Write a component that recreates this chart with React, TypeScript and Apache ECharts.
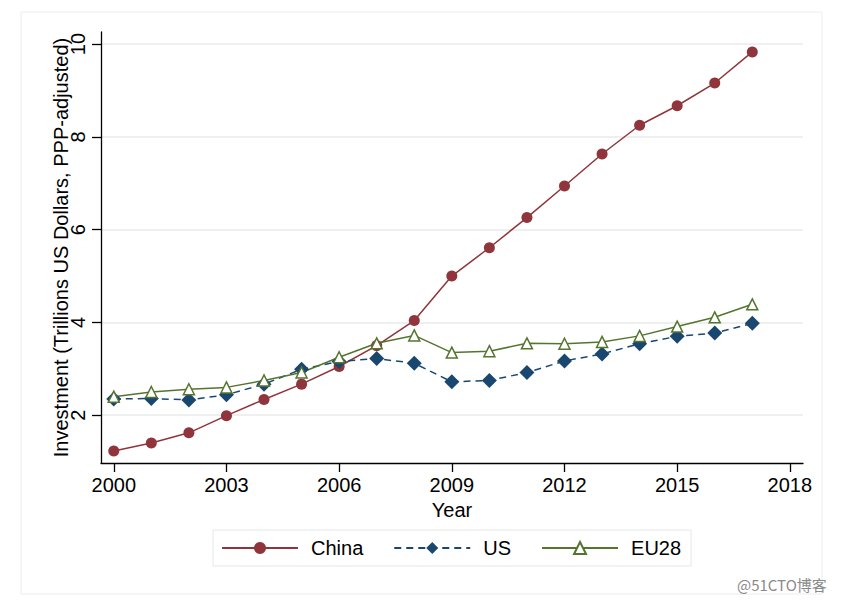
import React, { useEffect, useRef } from "react";
import * as echarts from "echarts";

const years = [2000, 2001, 2002, 2003, 2004, 2005, 2006, 2007, 2008, 2009, 2010, 2011, 2012, 2013, 2014, 2015, 2016, 2017];
const china = [1.23, 1.40, 1.62, 1.99, 2.34, 2.67, 3.05, 3.50, 4.04, 5.00, 5.61, 6.26, 6.94, 7.63, 8.25, 8.67, 9.16, 9.83];
const us = [2.35, 2.36, 2.33, 2.44, 2.67, 2.99, 3.16, 3.22, 3.12, 2.72, 2.75, 2.92, 3.17, 3.32, 3.54, 3.70, 3.77, 3.98];
const eu28 = [2.40, 2.50, 2.56, 2.60, 2.75, 2.92, 3.25, 3.55, 3.72, 3.35, 3.38, 3.55, 3.54, 3.58, 3.71, 3.91, 4.11, 4.39];
const xTicks = [2000, 2003, 2006, 2009, 2012, 2015, 2018];
const yTicks = [2, 4, 6, 8, 10];

const FONT = "'Liberation Sans', Arial, Helvetica, sans-serif";
const C_CHINA = "#90353b";
const C_US = "#1a476f";
const C_EU = "#55752f";

export default function App() {
  const ref = useRef<HTMLDivElement>(null);
  useEffect(() => {
    if (!ref.current) return;
    const chart = echarts.init(ref.current, null, { renderer: "svg" });
    const pair = (vals: number[]) => years.map((y, i) => [y, vals[i]]);
    chart.setOption({
      animation: false,
      backgroundColor: "#ffffff",
      textStyle: { fontFamily: FONT },
      graphic: [
        {
          type: "rect",
          shape: { x: 21, y: 12, width: 801, height: 582 },
          style: { fill: "none", stroke: "#ececec", lineWidth: 1 },
          silent: true,
          z: -1,
        },
        {
          type: "text",
          left: 737,
          top: 577,
          style: { text: "@51CTO博客", fill: "#8a8a8a", font: "15px 'Noto Sans CJK SC', " + FONT },
          z: 10,
        },
        {
          type: "text",
          x: 61,
          y: 247.5,
          rotation: Math.PI / 2,
          style: {
            text: "Investment (Trillions US Dollars, PPP-adjusted)",
            fill: "#000",
            font: "20px " + FONT,
            align: "center",
            verticalAlign: "middle",
          },
          z: 10,
        },
      ],
      grid: { left: 101, right: 42, top: 32, bottom: 140, containLabel: false },
      xAxis: {
        type: "value",
        min: 1999.66,
        max: 2018.35,
        name: "Year",
        nameLocation: "middle",
        nameGap: 31,
        nameTextStyle: { color: "#000", fontSize: 20, fontFamily: FONT },
        axisLine: { show: true, lineStyle: { color: "#000", width: 1.3 } },
        axisTick: { show: true, length: 9, customValues: xTicks, lineStyle: { color: "#000", width: 1.3 } },
        axisLabel: {
          customValues: xTicks,
          color: "#000",
          fontSize: 20,
          margin: 12,
          fontFamily: FONT,
          formatter: (v: number) => String(Math.round(v)),
        },
        splitLine: { show: false },
      },
      yAxis: {
        type: "value",
        min: 0.97,
        max: 10.26,
        axisLine: { show: true, lineStyle: { color: "#000", width: 1.3 } },
        axisTick: { show: true, length: 9, customValues: yTicks, lineStyle: { color: "#000", width: 1.3 } },
        axisLabel: {
          customValues: yTicks,
          color: "#000",
          fontSize: 20,
          rotate: 90,
          align: "center",
          verticalAlign: "bottom",
          margin: 13,
          fontFamily: FONT,
          formatter: (v: number) => String(Math.round(v)),
        },
        splitLine: { show: true, lineStyle: { color: "#eaeaea", width: 1.5 } },
      },
      legend: {
        left: 213,
        top: 530,
        width: 476,
        padding: [8, 10, 8, 8],
        itemGap: 30,
        itemWidth: 76,
        itemHeight: 15,
        borderColor: "#e6e6e6",
        borderWidth: 1,
        backgroundColor: "#fff",
        textStyle: { color: "#000", fontSize: 20, fontFamily: FONT, padding: [0, 0, 0, 8] },
        data: ["China", "US", "EU28"],
      },
      series: [
        {
          name: "China",
          type: "line",
          data: pair(china),
          symbol: "circle",
          symbolSize: 11,
          itemStyle: { color: C_CHINA },
          lineStyle: { color: C_CHINA, width: 1.5 },
        },
        {
          name: "US",
          type: "line",
          data: pair(us),
          symbol: "diamond",
          symbolSize: 15,
          itemStyle: { color: C_US },
          lineStyle: { color: C_US, width: 1.5, type: [7, 5] },
        },
        {
          name: "EU28",
          type: "line",
          data: pair(eu28),
          symbol: "triangle",
          symbolSize: 11,
          itemStyle: { color: "#ffffff", borderColor: C_EU, borderWidth: 1.5 },
          lineStyle: { color: C_EU, width: 1.5 },
        },
      ],
    });
    return () => chart.dispose();
  }, []);
  return <div ref={ref} style={{ width: 845, height: 603, margin: -8 }} />;
}
